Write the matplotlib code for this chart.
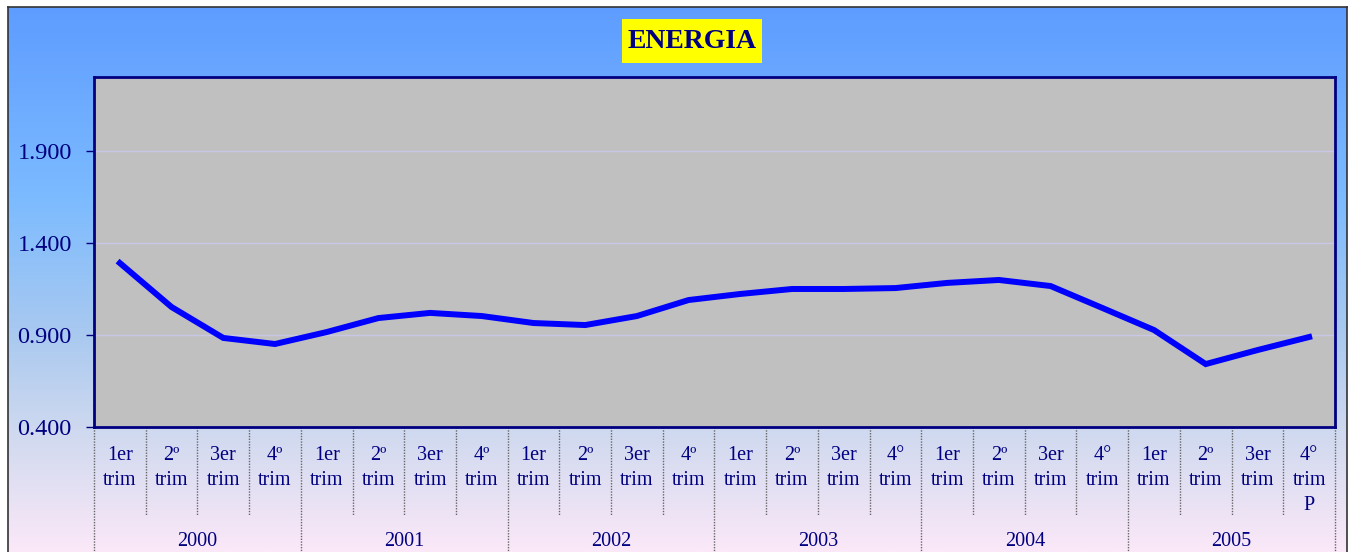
import numpy as np
import matplotlib
matplotlib.use("Agg")
import matplotlib.pyplot as plt
from matplotlib.colors import LinearSegmentedColormap
from matplotlib.patches import Rectangle
from matplotlib.lines import Line2D

# data (energy index, quarterly 2000-2005)
years = ['2000', '2001', '2002', '2003', '2004', '2005']
quarters = ['1er\ntrim', '2º\ntrim', '3er\ntrim', '4º\ntrim',
            '1er\ntrim', '2º\ntrim', '3er\ntrim', '4º\ntrim',
            '1er\ntrim', '2º\ntrim', '3er\ntrim', '4º\ntrim',
            '1er\ntrim', '2º\ntrim', '3er\ntrim', '4°\ntrim',
            '1er\ntrim', '2º\ntrim', '3er\ntrim', '4°\ntrim',
            '1er\ntrim', '2º\ntrim', '3er\ntrim', '4°\ntrim\nP']
values = [1.291, 1.052, 0.884, 0.851, 0.916, 0.992, 1.020, 1.003,
          0.965, 0.954, 1.003, 1.090, 1.123, 1.150, 1.150, 1.155,
          1.183, 1.199, 1.166, 1.047, 0.927, 0.742, 0.818, 0.889]
yticks = [0.4, 0.9, 1.4, 1.9]
ytick_labels = ['0.400', '0.900', '1.400', '1.900']

W, H = 1352, 552
NAVY = '#000080'
plt.rcParams['font.family'] = ['Liberation Serif', 'DejaVu Serif']

fig = plt.figure(figsize=(W / 100, H / 100), dpi=100)
fig.patch.set_facecolor('white')


def fx(px):
    return px / W


def fy(py):
    return 1 - py / H


# gradient background of the chart area
bg = fig.add_axes([fx(8), 0, fx(1347 - 8), (H - 7) / H], zorder=0)
cmap = LinearSegmentedColormap.from_list('bg', [
    (0.0, '#5e9cff'), (0.35, '#7cbbff'), (0.6, '#a9c9f0'),
    (0.78, '#cfd9ef'), (1.0, '#fbe8f8')])
grad = np.linspace(0, 1, 256).reshape(-1, 1)
bg.imshow(grad, aspect='auto', cmap=cmap, extent=[0, 1, 0, 1], origin='upper')
bg.set_xlim(0, 1)
bg.set_ylim(0, 1)
bg.set_xticks([])
bg.set_yticks([])
bg.spines['bottom'].set_visible(False)
for s in ['top', 'left', 'right']:
    bg.spines[s].set_color('#333333')
    bg.spines[s].set_linewidth(1.2)

# title box
fig.patches.append(Rectangle((fx(622), fy(63)), fx(140), 44 / H,
                             transform=fig.transFigure, facecolor='#ffff00',
                             edgecolor='none', zorder=3))
fig.text(fx(692), fy(42), 'ENERGIA', ha='center', va='center',
         fontsize=20, fontweight='bold', color=NAVY, zorder=4)

# plot area
top, bottom = 77, 427
ax = fig.add_axes([fx(94), fy(bottom), fx(1335 - 94), (bottom - top) / H], zorder=2)
ax.set_facecolor('#c0c0c0')
x = np.arange(len(values))
ax.plot(x, values, color='#0000ff', linewidth=4.3, solid_joinstyle='miter', zorder=3)
ax.set_xlim(-0.5, len(values) - 0.5)
ax.set_ylim(0.4, 2.302)
ax.set_yticks(yticks)
ax.set_yticklabels(ytick_labels)
ax.tick_params(axis='y', colors=NAVY, labelsize=17.5, length=6, width=1, pad=10)
ax.set_xticks([])
ax.grid(axis='y', color='#c8c8e6', linewidth=1)
ax.set_axisbelow(True)
for s in ax.spines.values():
    s.set_color(NAVY)
    s.set_linewidth(2)

# multi level category axis
trans = ax.get_xaxis_transform()
h = bottom - top


def ay(py):
    return (bottom - py) / h


for i, q in enumerate(quarters):
    ax.text(i, ay(446), q, transform=trans, ha='center', va='top',
            fontsize=14.5, color=NAVY, linespacing=1.42, clip_on=False)
for k in range(len(values) + 1):
    end = 552 if k % 4 == 0 else 515
    ax.add_line(Line2D([k - 0.5, k - 0.5], [0, ay(end)], transform=trans,
                       color='#666666', linestyle=(0, (1, 1)), linewidth=1,
                       clip_on=False))
for j, yr in enumerate(years):
    ax.text(j * 4 + 1.5, ay(541), yr, transform=trans, ha='center', va='center',
            fontsize=14.5, color=NAVY, clip_on=False)

fig.savefig('out.png', dpi=100)
